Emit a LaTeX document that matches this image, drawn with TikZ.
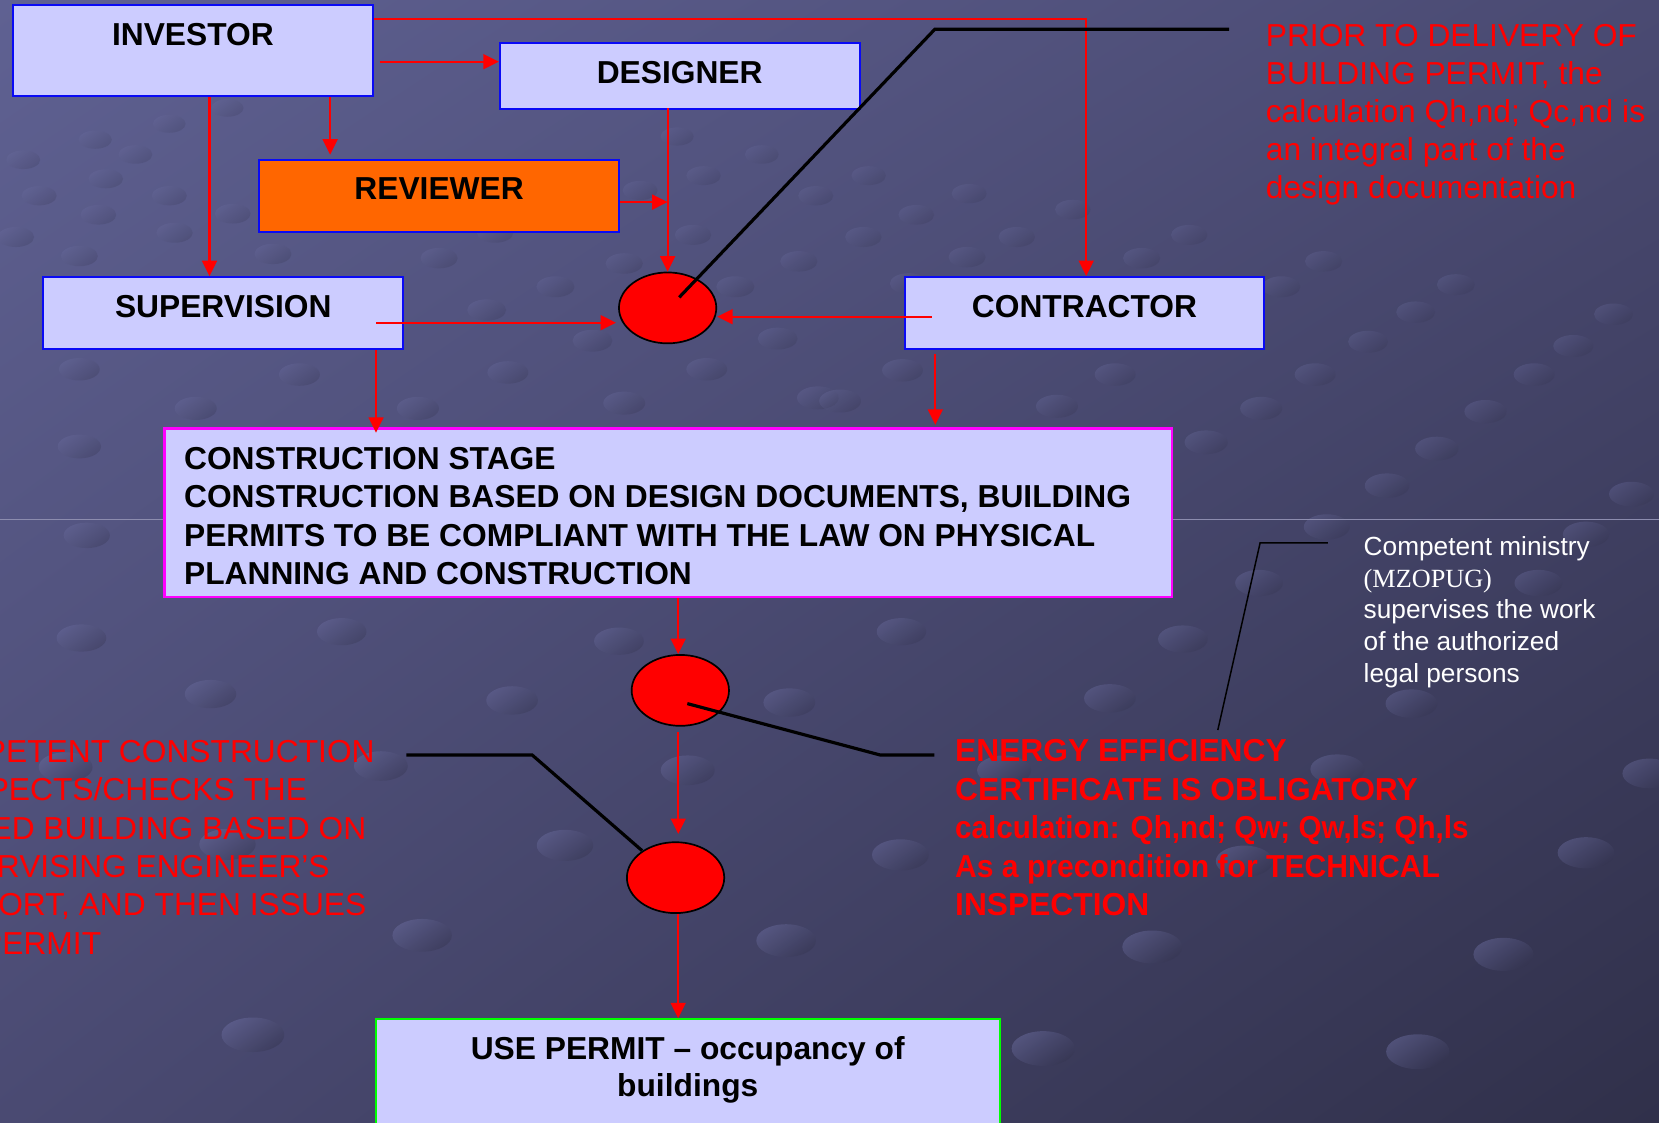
\documentclass[tikz,border=0pt]{standalone}
\usepackage{fontspec}
\setmainfont{Liberation Sans}
\newfontfamily\serifx{Liberation Serif}
\usetikzlibrary{arrows.meta,shapes.geometric,shadings}
\definecolor{boxfill}{HTML}{CCCCFF}
\definecolor{bblue}{HTML}{0A0AF5}
\definecolor{orng}{HTML}{FF6600}
\definecolor{mgnt}{HTML}{FF00FF}
\definecolor{grn}{HTML}{00FF00}
\definecolor{bgUL}{HTML}{5F6192}
\definecolor{bgUR}{HTML}{4A4A72}
\definecolor{bgLL}{HTML}{4A4A72}
\definecolor{bgLR}{HTML}{30304A}
\definecolor{faint}{HTML}{8C8CAE}
\definecolor{sphL}{HTML}{7072A6}
\definecolor{sphD}{HTML}{34344F}
\begin{document}
\begin{tikzpicture}[x=0.5pt,y=-0.5pt,
  ebox/.style={draw=bblue, line width=1pt, fill=boxfill, minimum width=170pt,
    inner sep=0pt, font=\bfseries\fontsize{15}{18}\selectfont, text=black},
  arr/.style={draw=red, line width=1pt, -{Triangle[length=7.3pt,width=7pt]}},
  callout/.style={draw=black, line width=1.5pt},
  thincallout/.style={draw=black, line width=0.7pt},
  rdot/.style={ellipse, draw=black, line width=0.8pt, fill=red,
    minimum width=46pt, minimum height=33.5pt, inner sep=0pt},
  redtxt/.style={text=red, font=\fontsize{15}{18}\selectfont, inner sep=0pt},
  redbold/.style={text=red, font=\bfseries\fontsize{15}{18}\selectfont, inner sep=0pt, anchor=base west},
  boldtxt/.style={text=black, font=\bfseries\fontsize{15}{18}\selectfont, inner sep=0pt},
  whitetxt/.style={text=white, font=\fontsize{12.4}{15}\selectfont, inner sep=0pt, anchor=base west},
  sphere/.style={top color=sphL, bottom color=sphD, shading angle=35}
]
\useasboundingbox (0,0) rectangle (1568,1061);
\clip (0,0) rectangle (1568,1061);
% background
\shade[upper left=bgUL, upper right=bgUR, lower left=bgLL, lower right=bgLR] (0,0) rectangle (1568,1061);
% background spheres of the slide template
\foreach \px/\py in {160/117,215/102,90/132,22/151,128/146,37/185,100/169,160/185,93/203,220/202,
  15/224,165/220,75/242,258/240,415/244,468/220,605/180,640/129,720/146,665/166,771/185,655/222,
  755/247,590/249,525/271,695/271,735/320,560/322,460/293,75/349,283/354,480/352,668/349,185/386,
  395/386,590/381,75/422,82/506,773/376,
  821/166,916/183,866/203,1014/198,816/224,961/224,1124/222,914/243,1079/244,1251/247,859/268,
  1211/271,1376/269,1338/295,1525/297,1293/323,1487/327,853/350,1054/354,1243/354,1450/354,794/379,
  999/384,1192/386,1404/389,1140/418,1358/424,1311/459,1542/467,1254/498,1499/505,
  77/603,323/597,585/606,199/656,484/662,746/664,360/724,650/728,215/798,534/799,399/884,743/889,
  239/978,62/725,
  852/597,1118/604,1049/660,1334/665,1190/551,1454/551,949/728,1264/727,1559/731,851/808,1176/814,
  1499/806,1089/895,1421/902,986/991,1340/994}
{
  \pgfmathsetmacro\rx{13.5+0.0165*\py}
  \pgfmathsetmacro\ry{0.55*\rx}
  \pgfmathsetmacro\op{0.18+0.00028*\py}
  \shade[sphere, opacity=\op] (\px,\py) ellipse [x radius=\rx, y radius=\ry];
}
\draw[faint, line width=0.5pt] (0,490.8) -- (1568,490.8);

% boxes
\node[ebox, minimum height=43pt, text depth=14.9pt] (inv) at (182.3,47.5) {INVESTOR};
\node[ebox, minimum height=31.2pt, text depth=3.65pt] (des) at (642.4,72.2) {DESIGNER};
\node[ebox, fill=orng, minimum height=33.9pt, text depth=6.8pt] (rev) at (415,185.1) {REVIEWER};
\node[ebox, minimum height=34pt, text depth=6.1pt] (sup) at (211,296) {SUPERVISION};
\node[ebox, minimum height=34pt, text depth=6.1pt] (con) at (1025,296) {CONTRACTOR};
\node[ebox, draw=mgnt, minimum width=476.2pt, minimum height=79.5pt] (cst) at (631.7,484.5) {};
\node[ebox, draw=grn, minimum width=294.7pt, minimum height=60pt, anchor=north] (use) at (650.2,962.5) {};

% box texts
\node[boldtxt, anchor=base west] (cst1) at (173.6,443.7) {CONSTRUCTION STAGE};
\node[boldtxt, anchor=base west] (cst2) at (173.6,480.0) {CONSTRUCTION BASED ON DESIGN DOCUMENTS, BUILDING};
\node[boldtxt, anchor=base west] (cst3) at (173.6,516.3) {PERMITS TO BE COMPLIANT WITH THE LAW ON PHYSICAL};
\node[boldtxt, anchor=base west] (cst4) at (173.6,552.6) {PLANNING AND CONSTRUCTION};
\node[boldtxt, anchor=base] (use1) at (650,1001) {USE PERMIT -- occupancy of};
\node[boldtxt, anchor=base] (use2) at (650,1036.5) {buildings};

% ellipses
\node[rdot] (e1) at (631,291) {};
\node[rdot] (e2) at (643,652.5) {};
\node[rdot] (e3) at (638.5,829.5) {};

% helper coordinates
\coordinate (x3) at (312,0);
\coordinate (x4) at (198,0);
\coordinate (y6) at (0,191);
\coordinate (p2) at (359,58.3);
\coordinate (p7) at (355.4,305);
\coordinate (p8) at (880.6,299.3);
\coordinate (x9) at (355.4,0);
\coordinate (x10) at (884,0);
\coordinate (x11) at (641,0);
\coordinate (c1b) at (883.5,27.7);
\coordinate (c1c) at (1161.7,27.7);
\coordinate (c2b) at (832,713.6);
\coordinate (c2c) at (883,713.6);
\coordinate (c3b) at (503,713.6);
\coordinate (c3c) at (384,713.6);
\coordinate (c4a) at (1151,690);
\coordinate (c4b) at (1191,513);
\coordinate (c4c) at (1255,513);

% red connectors
\draw[arr] ([yshift=-7.25pt]inv.north east) -| ([xshift=0.8pt]con.north);
\draw[arr] (p2) -- (p2 -| des.west);
\draw[arr, shorten >=2pt] (x3 |- inv.south) -- (x3 |- rev.north);
\draw[arr] (x4 |- inv.south) -- (x4 |- sup.north);
\draw[arr, shorten <=-1pt] (e1.north |- des.south) -- (e1.north);
\draw[arr] (y6 -| rev.east) -- (y6 -| e1.north);
\draw[arr, shorten >=1pt] (p7) -- (p7 -| e1.west);
\draw[arr] (p8) -- (p8 -| e1.east);
\draw[arr, shorten >=-2.5pt] (x9 |- sup.south) -- (x9 |- cst.north);
\draw[arr, shorten <=1.8pt, shorten >=1.2pt] (x10 |- con.south) -- (x10 |- cst.north);
\draw[arr] (x11 |- cst.south) -- (x11 |- e2.north);
\draw[arr, shorten <=2.7pt, shorten >=3.5pt] (x11 |- e2.south) -- (x11 |- e3.north);
\draw[arr] (x11 |- e3.south) -- (x11 |- use.north);

% black callout lines
\draw[callout] ([xshift=5.5pt,yshift=5pt]e1.center) -- (c1b) -- (c1c);
\draw[callout] ([xshift=3.3pt,yshift=-6.25pt]e2.center) -- (c2b) -- (c2c);
\draw[callout] ([xshift=-15.8pt,yshift=12.75pt]e3.center) -- (c3b) -- (c3c);
\draw[thincallout] (c4a) -- (c4b) -- (c4c);

% top right red text
\node[redtxt, anchor=base west] (t1) at (1196,43.5) {PRIOR TO DELIVERY OF};
\node[redtxt, anchor=base west] (t2) at (1196,79.6) {BUILDING PERMIT, the};
\node[redtxt, anchor=base west] (t3) at (1196,115.7) {calculation Qh,nd; Qc,nd is};
\node[redtxt, anchor=base west] (t4) at (1196,151.8) {an integral part of the};
\node[redtxt, anchor=base west] (t5) at (1196,188) {design documentation};

% left red text (cut by the left edge, as in the slide)
\node[redtxt, anchor=base east] (l1) at (354.5,720.5) {PETENT CONSTRUCTION};
\node[redtxt, anchor=base east] (l2) at (290.6,756.7) {PECTS/CHECKS THE};
\node[redtxt, anchor=base east] (l3) at (346.6,793) {ED BUILDING BASED ON};
\node[redtxt, anchor=base east] (l4) at (312,829.2) {RVISING ENGINEER’S};
\node[redtxt, anchor=base east] (l5) at (346.6,865.5) {ORT, AND THEN ISSUES};
\node[redtxt, anchor=base east] (l6) at (96,901.7) {PERMIT};

% energy efficiency text
\node[redbold] (r1) at (902.4,720) {ENERGY EFFICIENCY};
\node[redbold] (r2) at (902.4,756.4) {CERTIFICATE IS OBLIGATORY};
\node[redbold] (r3) at (902.4,792.8) {\scalebox{0.933}[1]{calculation: Qh,nd; Qw; Qw,ls; Qh,ls}};
\node[redbold] (r4) at (902.4,829.1) {\scalebox{0.948}[1]{As a precondition for TECHNICAL}};
\node[redbold] (r5) at (902.4,865.5) {INSPECTION};

% white text
\node[whitetxt] (w1) at (1288.5,524.9) {Competent ministry};
\node[whitetxt] (w2) at (1288.5,554.9) {{\serifx (MZOPUG)}};
\node[whitetxt] (w3) at (1288.5,584.9) {supervises the work};
\node[whitetxt] (w4) at (1288.5,614.9) {of the authorized};
\node[whitetxt] (w5) at (1288.5,644.9) {legal persons};
\end{tikzpicture}
\end{document}
